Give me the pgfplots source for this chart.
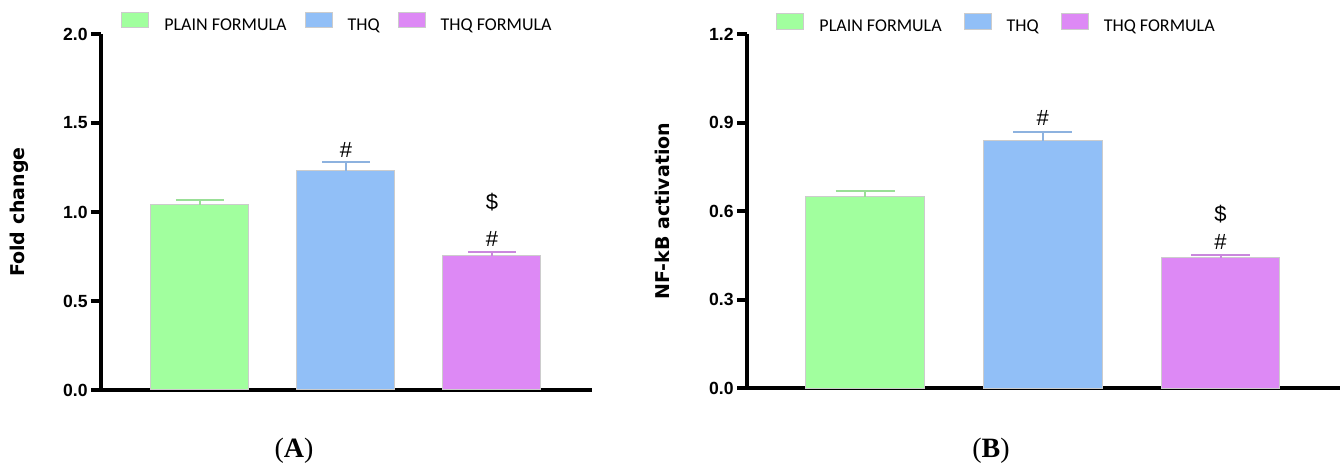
\documentclass[border=0pt]{standalone}
\usepackage{fontspec}
\usepackage{pgfplots}
\pgfplotsset{compat=1.18}
\newfontfamily\arialf{Liberation Sans}
\newfontfamily\dejavuf{DejaVu Sans}
\newfontfamily\carlitof{Carlito}
\newfontfamily\tnrf{Liberation Serif}
\newcommand\tickf{\arialf\bfseries\fontsize{8.8pt}{10pt}\selectfont}
\newcommand\labf{\dejavuf\bfseries\fontsize{9.5pt}{11pt}\selectfont}
\newcommand\legf{\carlitof\fontsize{9pt}{10pt}\selectfont}
\newcommand\annf{\arialf\fontsize{11pt}{12pt}\selectfont}
\definecolor{cgreen}{RGB}{161,255,158}
\definecolor{cblue}{RGB}{145,191,247}
\definecolor{cmag}{RGB}{221,137,245}
\pgfplotsset{
  mylegend/.style={legend image code/.code={\draw[##1,line width=0.5pt] (0pt,-0.85pt) rectangle (13.5pt,6.65pt);}},
  mybase/.style={
    scale only axis,
    axis x line=bottom, axis y line=left,
    axis line style={-, line width=2.2pt, black},
    enlargelimits=false,
    xtick=\empty,
    tick align=outside,
    major tick length=5pt,
    ytick style={line width=2pt, black},
    yticklabel style={font=\tickf, inner sep=1.5pt},
    legend columns=3,
    legend cell align=left,
    clip=false,
  }
}
\begin{document}
\begin{tikzpicture}
\path[use as bounding box] (0,0) rectangle (671.5pt,232pt);
% Panel A
\begin{axis}[mybase,
  at={(50.5pt,37pt)}, anchor=south west,
  width=245.5pt, height=178pt,
  xmin=-0.678, xmax=2.685, ymin=0, ymax=2,
  ytick={0,0.5,1,1.5,2}, yticklabels={0.0,0.5,1.0,1.5,2.0},
  every axis y label/.style={at={(axis description cs:-0.167,0.5)}, rotate=90, anchor=center, font=\labf},
  ylabel={Fold change},
  legend style={draw=none, fill=none, inner sep=0pt, at={(0.0407,1.031)}, anchor=west, font=\legf,
    nodes={inner sep=0pt},
    /tikz/every odd column/.append style={column sep=7.5pt},
    /tikz/every even column/.append style={column sep=9pt}},
]
\addplot[ybar, bar width=49pt, bar shift=0pt, fill=cgreen, draw=gray!40, line width=0.5pt, mylegend,
  error bars/.cd, y dir=plus, y explicit,
  error bar style={line width=1pt, draw=cgreen!75!gray},
  error mark options={rotate=90, line width=1pt, draw=cgreen!75!gray, mark size=12pt}]
  coordinates {(0,1.040) +- (0,0.030)};
\addlegendentry{PLAIN FORMULA}
\addplot[ybar, bar width=49pt, bar shift=0pt, fill=cblue, draw=gray!40, line width=0.5pt, mylegend,
  error bars/.cd, y dir=plus, y explicit,
  error bar style={line width=1pt, draw=cblue!80!gray},
  error mark options={rotate=90, line width=1pt, draw=cblue!80!gray, mark size=12pt}]
  coordinates {(1,1.232) +- (0,0.051)};
\addlegendentry{THQ}
\addplot[ybar, bar width=49pt, bar shift=0pt, fill=cmag, draw=gray!40, line width=0.5pt, mylegend,
  error bars/.cd, y dir=plus, y explicit,
  error bar style={line width=1pt, draw=cmag!80!gray},
  error mark options={rotate=90, line width=1pt, draw=cmag!80!gray, mark size=12pt}]
  coordinates {(2,0.754) +- (0,0.021)};
\addlegendentry{THQ FORMULA}
\node[font=\annf] at (axis cs:1,1.348) {\#};
\node[font=\annf] at (axis cs:2,1.053) {\$};
\node[font=\annf] at (axis cs:2,0.851) {\#};
\end{axis}
% Panel B
\begin{axis}[mybase,
  at={(373.5pt,37.85pt)}, anchor=south west,
  width=296.5pt, height=177.15pt,
  xmin=-0.664, xmax=2.672, ymin=0, ymax=1.2,
  ytick={0,0.3,0.6,0.9,1.2}, yticklabels={0.0,0.3,0.6,0.9,1.2},
  every axis y label/.style={at={(axis description cs:-0.143,0.5)}, rotate=90, anchor=center, font=\labf},
  ylabel={NF-kB activation},
  legend style={draw=none, fill=none, inner sep=0pt, at={(0.049,1.028)}, anchor=west, font=\legf,
    nodes={inner sep=0pt},
    /tikz/every odd column/.append style={column sep=7.5pt},
    /tikz/every even column/.append style={column sep=11pt}},
]
\addplot[ybar, bar width=59.3pt, bar shift=0pt, fill=cgreen, draw=gray!40, line width=0.5pt, mylegend,
  error bars/.cd, y dir=plus, y explicit,
  error bar style={line width=1pt, draw=cgreen!75!gray},
  error mark options={rotate=90, line width=1pt, draw=cgreen!75!gray, mark size=14.75pt}]
  coordinates {(0,0.648) +- (0,0.020)};
\addlegendentry{PLAIN FORMULA}
\addplot[ybar, bar width=59.3pt, bar shift=0pt, fill=cblue, draw=gray!40, line width=0.5pt, mylegend,
  error bars/.cd, y dir=plus, y explicit,
  error bar style={line width=1pt, draw=cblue!80!gray},
  error mark options={rotate=90, line width=1pt, draw=cblue!80!gray, mark size=14.75pt}]
  coordinates {(1,0.838) +- (0,0.031)};
\addlegendentry{THQ}
\addplot[ybar, bar width=59.3pt, bar shift=0pt, fill=cmag, draw=gray!40, line width=0.5pt, mylegend,
  error bars/.cd, y dir=plus, y explicit,
  error bar style={line width=1pt, draw=cmag!80!gray},
  error mark options={rotate=90, line width=1pt, draw=cmag!80!gray, mark size=14.75pt}]
  coordinates {(2,0.442) +- (0,0.011)};
\addlegendentry{THQ FORMULA}
\node[font=\annf] at (axis cs:1,0.917) {\#};
\node[font=\annf] at (axis cs:2,0.589) {\$};
\node[font=\annf] at (axis cs:2,0.494) {\#};
\end{axis}
\node[font=\tnrf\fontsize{14pt}{16pt}\selectfont] at (147pt,6.5pt) {(\textbf{A})};
\node[font=\tnrf\fontsize{14pt}{16pt}\selectfont] at (495.5pt,6.5pt) {(\textbf{B})};
\end{tikzpicture}
\end{document}
